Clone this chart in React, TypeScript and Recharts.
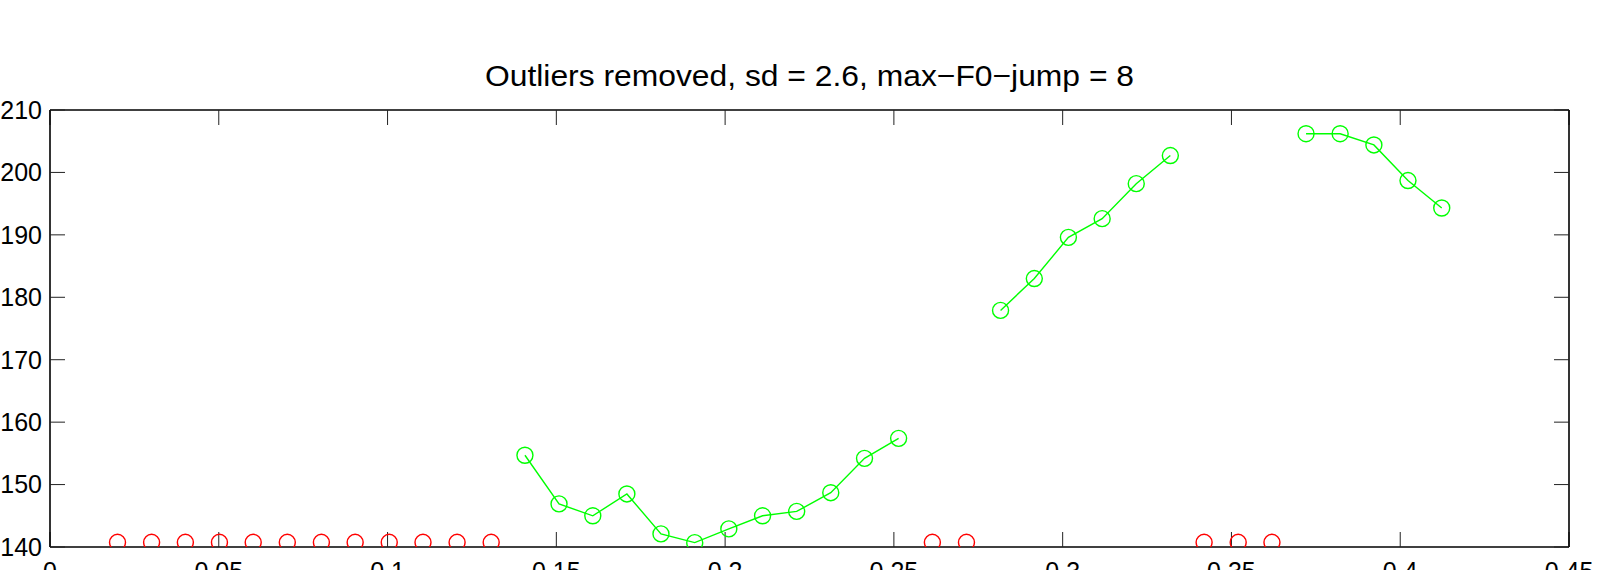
import React from "react";
import { ScatterChart, Scatter, XAxis, YAxis } from "recharts";

const titleText = "Outliers removed, sd = 2.6, max\u2212F0\u2212jump = 8";

const xTicks = [0, 0.05, 0.1, 0.15, 0.2, 0.25, 0.3, 0.35, 0.4, 0.45];
const yTicks = [140, 150, 160, 170, 180, 190, 200, 210];

// Outlier (red) frames
const redTimes = [
  0.02, 0.0301, 0.0401, 0.0502, 0.0602, 0.0703, 0.0804, 0.0904, 0.1005, 0.1105,
  0.1206, 0.1307, 0.2614, 0.2715, 0.3419, 0.352, 0.362,
];
const redValues = [
  140.75, 140.75, 140.75, 140.75, 140.75, 140.75, 140.75, 140.75, 140.75, 140.75,
  140.75, 140.75, 140.75, 140.75, 140.75, 140.75, 140.75,
];

// Kept (green) segments
const seg1Times = [0.1407, 0.1508, 0.1608, 0.1709, 0.181, 0.191, 0.2011, 0.2111, 0.2212, 0.2313, 0.2413, 0.2514];
const seg1Values = [154.7, 146.9, 145.0, 148.5, 142.1, 140.7, 142.9, 145.0, 145.7, 148.7, 154.2, 157.4];

const seg2Times = [0.2816, 0.2916, 0.3017, 0.3117, 0.3218, 0.3319];
const seg2Values = [177.9, 183.0, 189.6, 192.6, 198.2, 202.7];

const seg3Times = [0.3721, 0.3822, 0.3922, 0.4023, 0.4123];
const seg3Values = [206.2, 206.2, 204.4, 198.7, 194.3];

const zip = (ts: number[], vs: number[]) => ts.map((t, i) => ({ t, v: vs[i] }));

const redData = zip(redTimes, redValues);
const seg1 = zip(seg1Times, seg1Values);
const seg2 = zip(seg2Times, seg2Values);
const seg3 = zip(seg3Times, seg3Values);

const FONT = "'Liberation Sans', Arial, Helvetica, sans-serif";

const circle = (color: string) => (props: any) => {
  const { cx, cy } = props;
  if (cx == null || cy == null) return <g />;
  return <circle cx={cx} cy={cy} r={8} fill="none" stroke={color} strokeWidth={1.4} />;
};

const noTick = () => <g />;

export default function App() {
  const W = 1598;
  const H = 570;
  const axisLine = { stroke: "#000", strokeWidth: 1.6 };
  const tickLine = { stroke: "#222", strokeWidth: 1 };
  const tickStyle = { fontSize: 25, fill: "#000", fontFamily: FONT };
  return (
    <div style={{ position: "relative", width: W, height: H, overflow: "hidden" }}>
      <style>{"html,body{margin:0;padding:0;overflow:hidden;}"}</style>
      <ScatterChart width={W} height={H} margin={{ top: 109, right: 28, bottom: 0, left: 0 }}>
        <XAxis
          xAxisId="b"
          type="number"
          dataKey="t"
          domain={[0, 0.45]}
          ticks={xTicks}
          allowDataOverflow
          orientation="bottom"
          height={23}
          tickSize={-15}
          tickMargin={30}
          axisLine={axisLine}
          tickLine={tickLine}
          tick={tickStyle}
          interval={0}
        />
        <XAxis
          xAxisId="t"
          type="number"
          dataKey="t"
          domain={[0, 0.45]}
          ticks={xTicks}
          allowDataOverflow
          orientation="top"
          height={1}
          tickSize={-15}
          axisLine={axisLine}
          tickLine={tickLine}
          tick={noTick}
          interval={0}
        />
        <YAxis
          yAxisId="l"
          type="number"
          dataKey="v"
          domain={[140, 210]}
          ticks={yTicks}
          allowDataOverflow
          orientation="left"
          width={50}
          tickSize={-15}
          tickMargin={23}
          axisLine={axisLine}
          tickLine={tickLine}
          tick={tickStyle}
          interval={0}
        />
        <YAxis
          yAxisId="r"
          type="number"
          dataKey="v"
          domain={[140, 210]}
          ticks={yTicks}
          allowDataOverflow
          orientation="right"
          width={1}
          tickSize={-15}
          axisLine={axisLine}
          tickLine={tickLine}
          tick={noTick}
          interval={0}
        />
        <Scatter xAxisId="b" yAxisId="l" data={redData} shape={circle("#ff0000")} isAnimationActive={false} />
        <Scatter
          xAxisId="b"
          yAxisId="l"
          data={seg1}
          line={{ stroke: "#00ff00", strokeWidth: 1.4 }}
          shape={circle("#00ff00")}
          isAnimationActive={false}
        />
        <Scatter
          xAxisId="b"
          yAxisId="l"
          data={seg2}
          line={{ stroke: "#00ff00", strokeWidth: 1.4 }}
          shape={circle("#00ff00")}
          isAnimationActive={false}
        />
        <Scatter
          xAxisId="b"
          yAxisId="l"
          data={seg3}
          line={{ stroke: "#00ff00", strokeWidth: 1.4 }}
          shape={circle("#00ff00")}
          isAnimationActive={false}
        />
      </ScatterChart>
      <svg
        width={W}
        height={H}
        style={{ position: "absolute", left: 0, top: 0, pointerEvents: "none" }}
      >
        <text
          x={809.5}
          y={85.7}
          textAnchor="middle"
          fontSize={30}
          fontFamily={FONT}
          fill="#000"
          textLength={649}
          lengthAdjust="spacingAndGlyphs"
        >
          {titleText}
        </text>
      </svg>
    </div>
  );
}
